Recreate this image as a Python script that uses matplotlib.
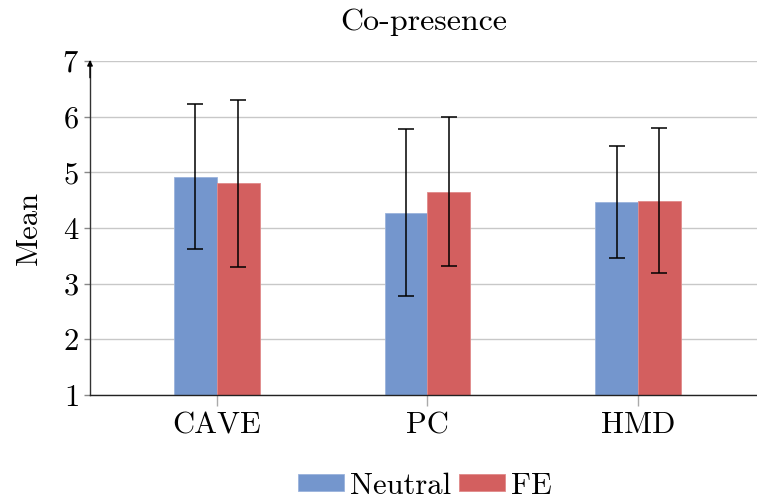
import matplotlib
matplotlib.use('Agg')
import matplotlib.pyplot as plt
import numpy as np

plt.rcParams['font.family'] = ['cmr10', 'DejaVu Serif']
plt.rcParams['axes.formatter.use_mathtext'] = True

categories = ['CAVE', 'PC', 'HMD']
neutral = [4.92, 4.27, 4.47]
fe = [4.80, 4.65, 4.49]
neutral_sd = [1.30, 1.50, 1.01]
fe_sd = [1.50, 1.34, 1.30]

blue = '#7496cd'
red = '#d35f5f'

fig = plt.figure(figsize=(7.57, 4.98), dpi=100)
ax = fig.add_axes([0.1189, 0.2068, 0.881, 0.6707])

x = np.arange(len(categories))
w = 0.204

ax.bar(x - w / 2, neutral, w, bottom=0, color=blue, edgecolor='#9bb3dc', lw=0.6,
       label='Neutral', zorder=2)
ax.bar(x + w / 2, fe, w, color=red, edgecolor='#e08a8a', lw=0.6,
       label='FE', zorder=2)
ax.errorbar(x - w / 2, neutral, yerr=neutral_sd, fmt='none', ecolor='black',
            elinewidth=1.1, capsize=6, capthick=1.1, zorder=3)
ax.errorbar(x + w / 2, fe, yerr=fe_sd, fmt='none', ecolor='black',
            elinewidth=1.1, capsize=6, capthick=1.1, zorder=3)

ax.set_ylim(1, 7)
ax.set_xlim(-0.603, 2.565)
ax.set_yticks(range(1, 8))
ax.set_xticks(x)
ax.set_xticklabels(categories)
ax.yaxis.grid(True, color='#c8c8c8', lw=1, zorder=0)
ax.set_axisbelow(True)

for s in ['top', 'right']:
    ax.spines[s].set_visible(False)
ax.spines['left'].set_color('#333333')
ax.spines['bottom'].set_color('#222222')
ax.spines['left'].set_linewidth(1)
ax.spines['bottom'].set_linewidth(1)

ax.tick_params(axis='x', length=8, width=1, color='#aaaaaa', labelsize=22, pad=4)
ax.tick_params(axis='y', length=4, width=1, color='#888888', labelsize=22, pad=4)

ax.annotate('', xy=(0, 1.003), xytext=(0, 0.95), xycoords='axes fraction',
            arrowprops=dict(arrowstyle='-|>', color='black', lw=1,
                            mutation_scale=8, shrinkA=0, shrinkB=0))

ax.set_title('Co-presence', fontsize=23, pad=22)
ax.set_ylabel('Mean', fontsize=22, labelpad=14)

ax.legend(loc='upper center', bbox_to_anchor=(0.502, -0.185), ncol=2,
          frameon=False, fontsize=22, handlelength=1.5, handleheight=0.5,
          handletextpad=0.2, columnspacing=0.26, borderpad=0)

fig.savefig('out.png', dpi=100)
